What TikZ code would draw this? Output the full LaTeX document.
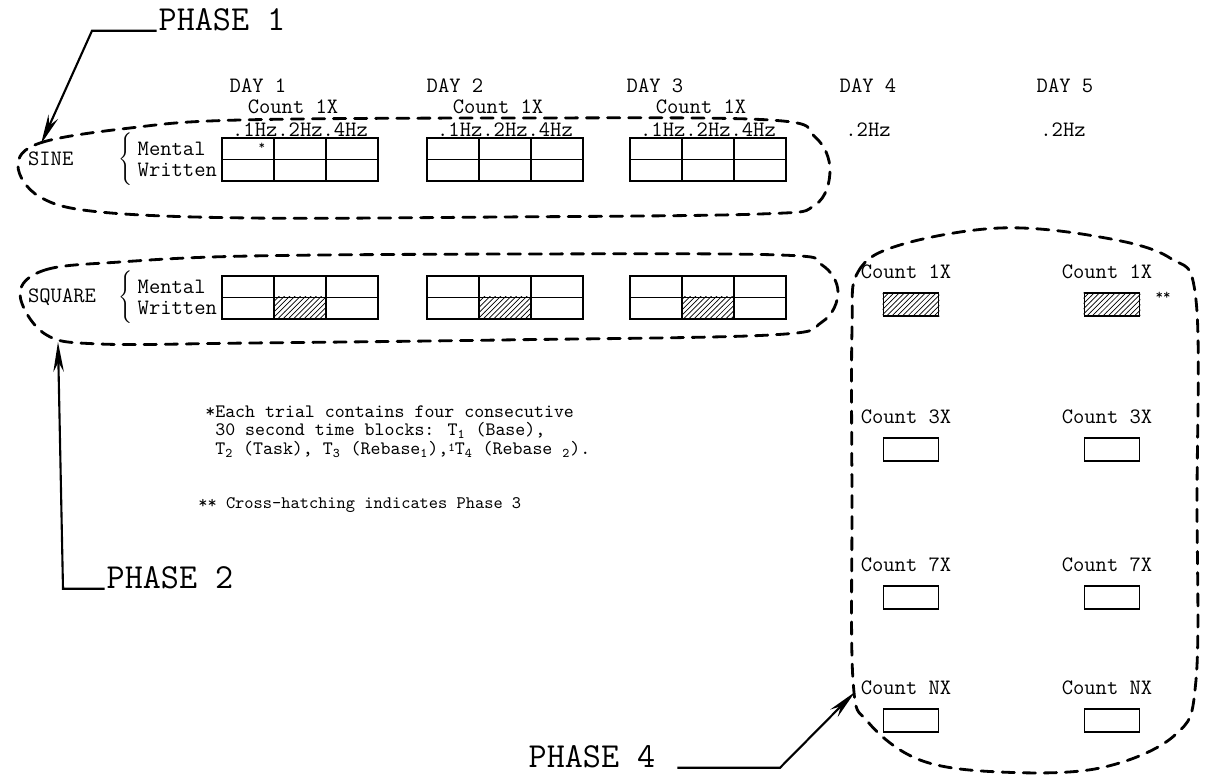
\documentclass[tikz,border=0pt]{standalone}
\usepackage{tikz}
\usetikzlibrary{positioning, arrows.meta, patterns}

\begin{document}
\begin{tikzpicture}[
                    x=0.02cm, y=-0.02cm,
                    txt/.style={font=\ttfamily\fontsize{12.5}{14}\selectfont, inner sep=1pt},
                    phase/.style={font=\ttfamily\fontsize{20}{22}\selectfont, inner sep=1pt},
                    note/.style={font=\ttfamily\fontsize{10.8}{10.6}\selectfont, align=left, inner sep=0pt, anchor=north west},
                    cell/.style={draw, line width=1.1pt, minimum width=1.04cm, minimum height=0.43cm, inner sep=0pt},
                    tbox/.style={draw, line width=1.1pt, minimum width=1.1cm, minimum height=0.45cm, inner sep=0pt},
                    hatched/.style={pattern=north east lines},
                    loopline/.style={draw, dash pattern=on 7pt off 5pt, line width=1.6pt, line cap=round},
                    pointer/.style={draw, line width=1.2pt, -{Stealth[length=17pt, width=6pt]}}
                ]
                    \useasboundingbox (0,0) rectangle (1205,781);

                    % Day headings
                    \node [txt] (day1) at (258,86) {DAY 1};
                    \node [txt] (day2) at (455,86) {DAY 2};
                    \node [txt] (day3) at (655,86) {DAY 3};
                    \node [txt] (day4) at (868,86) {DAY 4};
                    \node [txt] (day5) at (1065,86) {DAY 5};
                    \node [txt] (hz4) at (868,130) {.2Hz};
                    \node [txt] (hz5) at (1063,130) {.2Hz};

                    % Tables, days 1-3
                    \foreach \d/\x in {1/222, 2/427, 3/630} {
                        \node [txt] (cnt\d) at (\x+71,107) {Count 1X};
                        \node [txt] (hz\d) at (\x+78,130) {.1Hz.2Hz.4Hz};
                        \foreach \c in {1,2,3} {
                            \node [cell] (sin-\d-\c-a) at (\x+52*\c-26,148.75) {};
                            \node [cell] (sin-\d-\c-b) at (\x+52*\c-26,170.25) {};
                            \node [cell] (sq-\d-\c-a) at (\x+52*\c-26,286.75) {};
                            \node [cell] (sq-\d-\c-b) at (\x+52*\c-26,308.25) {};
                        }
                        \path [hatched] (sq-\d-2-b.south west) rectangle (sq-\d-2-b.north east);
                    }
                    \node [font=\ttfamily\fontsize{7}{7}\selectfont, inner sep=0pt] (star) at (262,146) {*};

                    % Row labels
                    \node [txt, anchor=west] (sine) at (26,159) {SINE};
                    \node [txt, anchor=west] (square) at (26,297) {SQUARE};
                    \node [txt, anchor=east] (ment1) at (219,148.75) {Mental\phantom{x}};
                    \node [txt, anchor=east] (writ1) at (219,170.25) {Written};
                    \node [txt, anchor=east] (ment2) at (219,286.75) {Mental\phantom{x}};
                    \node [txt, anchor=east] (writ2) at (219,308.25) {Written};
                    \node [anchor=east, inner sep=0pt] (br1) at (writ1.west |- 0,159.5) {$\left\{\vrule height 11pt depth 11pt width 0pt\right.$};
                    \node [anchor=east, inner sep=0pt] (br2) at (writ2.west |- 0,297.5) {$\left\{\vrule height 11pt depth 11pt width 0pt\right.$};

                    % Footnotes
                    \node [note] (fn1) at (205,405) {*Each trial contains four consecutive\\
                        \phantom{*}30 second time blocks: T\textsubscript{1} (Base),\\
                        \phantom{*}T\textsubscript{2} (Task), T\textsubscript{3} (Rebase\textsubscript{1}),\raisebox{1.5pt}{\fontsize{7}{7}\selectfont 1}T\textsubscript{4} (Rebase \textsubscript{2}).};
                    \node [note, anchor=west, font=\ttfamily\fontsize{10}{10}\selectfont] (fn2) at (198,505) {** Cross-hatching indicates Phase 3};

                    % Days 4-5
                    \foreach \n/\y in {1/272, 3/417, 7/565, N/688} {
                        \foreach \s/\x in {l/906, r/1107} {
                            \node [txt] (cnt-\n-\s) at (\x,\y) {Count \n X};
                            \node [tbox, below=0.22cm of cnt-\n-\s, xshift=0.1cm] (box-\n-\s) {};
                        }
                    }
                    \path [hatched] (box-1-l.south west) rectangle (box-1-l.north east);
                    \path [hatched] (box-1-r.south west) rectangle (box-1-r.north east);
                    \node [font=\ttfamily\fontsize{8}{8}\selectfont, inner sep=0pt] (dstar) at (1163,296) {**};

                    % Phase outlines
                    \draw [loopline] plot [smooth cycle, tension=0.6] coordinates {(18,166) (40,143) (130,128) (240,120) (520,118) (770,120) (815,137) (830,170) (815,205) (760,214) (500,217) (250,218) (100,212) (40,197)};
                    \draw [loopline] plot [smooth cycle, tension=0.6] coordinates {(20,294) (45,270) (120,262) (250,256) (520,254) (780,255) (822,265) (838,292) (822,322) (770,335) (500,340) (250,343) (100,344) (45,334)};
                    \draw [loopline] plot [smooth cycle, tension=0.6] coordinates {(852,330) (858,272) (900,245) (1000,228) (1100,237) (1170,258) (1196,300) (1197,500) (1196,680) (1175,735) (1100,768) (1000,772) (920,760) (868,722) (853,680) (852,500)};

                    % Phase labels
                    \node [phase] (ph1) at (222,20) {PHASE 1};
                    \node [phase] (ph2) at (170,578) {PHASE 2};
                    \node [phase] (ph4) at (592,757) {PHASE 4};
                    \coordinate (p1corner) at (92,27);
                    \coordinate (p1tip) at (41,144);
                    \coordinate (p2corner) at (63,580);
                    \coordinate (p2tip) at (58,342);
                    \coordinate (p4corner) at (780,762);
                    \coordinate (p4tip) at (855,692);

                    % Pointers
                    \path [pointer] (ph1.base west) -- (ph1.base west -| p1corner) -- (p1tip);
                    \path [pointer] (ph2.base west) -- (ph2.base west -| p2corner) -- (p2tip);
                    \path [pointer] ([xshift=0.4cm]ph4.base east) -- (ph4.base east -| p4corner) -- (p4tip);
                \end{tikzpicture}
\end{document}
